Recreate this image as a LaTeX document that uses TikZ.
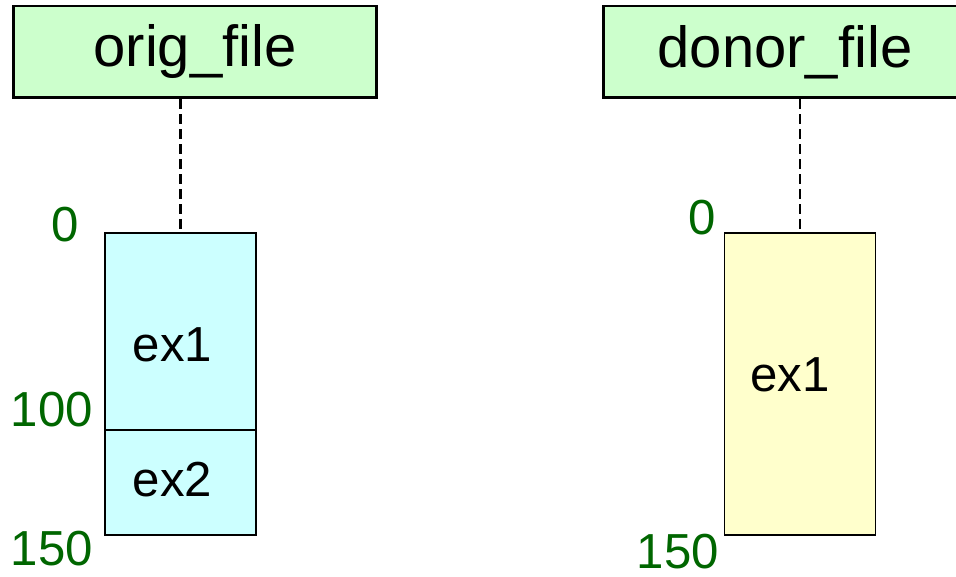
\documentclass[tikz,border=0pt]{standalone}
\usepackage{fontspec}
\setmainfont{Liberation Sans}
\usepackage{tikz}
\usetikzlibrary{positioning}
\definecolor{filegreen}{HTML}{CCFFCC}
\definecolor{extcyan}{HTML}{CCFFFF}
\definecolor{extyellow}{HTML}{FFFFCC}
\definecolor{offgreen}{HTML}{006600}
\tikzset{
  filebox/.style={draw, line width=1.7pt, fill=filegreen, minimum width=7.28cm,
    minimum height=1.84cm, font=\fontsize{33}{36}\selectfont},
  extbox/.style={draw, line width=0.8pt, minimum width=3.02cm},
  extname/.style={font=\fontsize{28}{32}\selectfont},
  offset/.style={text=offgreen, font=\fontsize{28}{32}\selectfont},
  lifeline/.style={line width=1.5pt, dash pattern=on 5.5pt off 3pt}
}

\begin{document}
\begin{tikzpicture}[x=0.02cm, y=-0.02cm]
  \useasboundingbox (0,0) rectangle (956,577);

  % the two files
  \node[filebox] (orig) at (195,52) {orig\_file};
  \node[filebox] (donor) at (785,52) {donor\_file};

  % extents of orig_file
  \node[extbox, fill=extcyan, minimum height=3.94cm,
    label={[extname, xshift=-0.16cm, yshift=-0.27cm]center:ex1}] (oex1) at (180.5,331.5) {};
  \node[extbox, fill=extcyan, minimum height=2.1cm,
    label={[extname, xshift=-0.16cm, yshift=0.05cm]center:ex2}] (oex2) at (180.5,482.5) {};

  % extent of donor_file
  \node[extbox, fill=extyellow, minimum height=6.04cm,
    label={[extname, xshift=-0.2cm, yshift=0.18cm]center:ex1}] (dex1) at (800,384) {};

  \draw[lifeline] (orig.south -| oex1.north) -- (oex1.north);
  \draw[lifeline] (donor.south -| dex1.north) -- (dex1.north);

  % byte offsets
  \foreach \name/\x/\y/\txt in {o0/65/225/0, o100/52/410/100, o150/52/549/150,
                                d0/702/218/0, d150/678/552/150}
    \node[offset] (\name) at (\x,\y) {\txt};
\end{tikzpicture}
\end{document}
